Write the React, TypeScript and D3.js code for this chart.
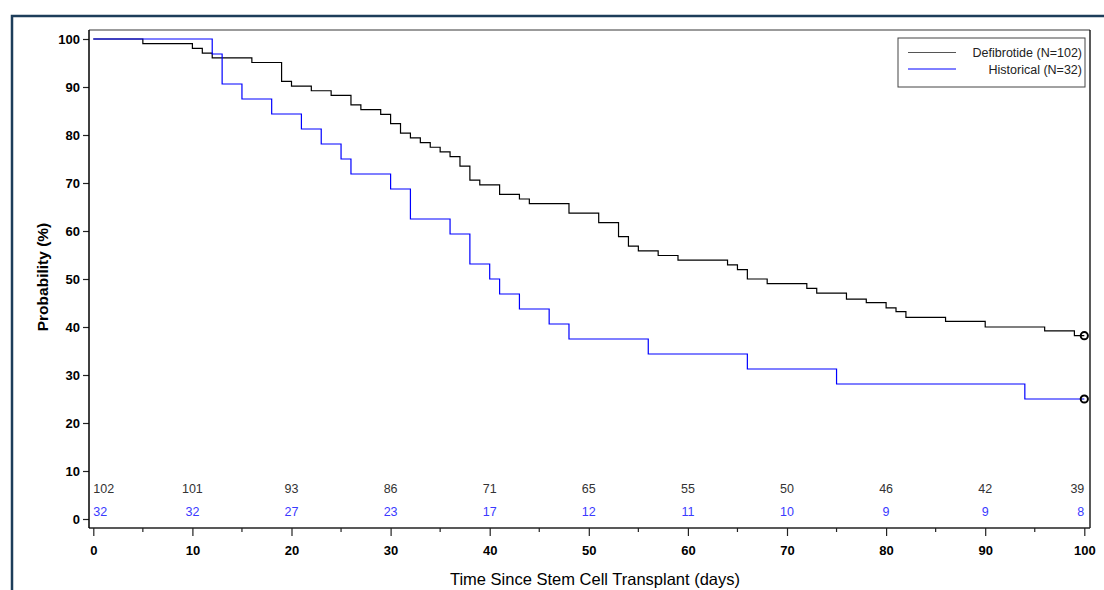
import React, { useEffect, useRef } from "react"
import * as d3 from "d3"

// Kaplan-Meier steps (day, survival %)
const defibTimes = [0, 5, 10, 11, 12, 16, 19, 20, 22, 24, 26, 27, 29, 30, 31, 32, 33, 34, 35, 36, 37, 38, 39, 41, 43, 44, 48, 51, 53, 54, 55, 57, 59, 64, 65, 66, 68, 72, 73, 76, 78, 80, 81, 82, 86, 90, 96, 99, 100]
const defibValues = [100, 99.02, 98.04, 97.06, 96.08, 95.1, 91.18, 90.2, 89.22, 88.24, 86.27, 85.29, 84.31, 82.35, 80.39, 79.41, 78.43, 77.45, 76.47, 75.49, 73.53, 70.59, 69.61, 67.65, 66.67, 65.69, 63.73, 61.76, 58.82, 56.86, 55.88, 54.9, 53.92, 52.94, 51.96, 50.0, 49.02, 48.04, 47.06, 45.8, 45.06, 44.0, 43.2, 42.02, 41.19, 40.0, 39.2, 38.2, 38.2]

const histTimes = [0, 12, 13, 15, 18, 21, 23, 25, 26, 30, 32, 36, 38, 40, 41, 43, 46, 48, 56, 66, 75, 94, 100]
const histValues = [100, 96.88, 90.63, 87.5, 84.38, 81.25, 78.13, 75.0, 71.88, 68.75, 62.5, 59.38, 53.13, 50.0, 46.88, 43.75, 40.63, 37.5, 34.38, 31.25, 28.13, 25.0, 25.0]

const riskDays = [0, 10, 20, 30, 40, 50, 60, 70, 80, 90, 100]
const defibAtRisk = [102, 101, 93, 86, 71, 65, 55, 50, 46, 42, 39]
const histAtRisk = [32, 32, 27, 23, 17, 12, 11, 10, 9, 9, 8]

const xTicks = [0, 10, 20, 30, 40, 50, 60, 70, 80, 90, 100]
const xMinorTicks = [5, 15, 25, 35, 45, 55, 65, 75, 85, 95]
const yTicks = [0, 10, 20, 30, 40, 50, 60, 70, 80, 90, 100]

const legendItems = [
	{ label: "Defibrotide (N=102)", color: "#555" },
	{ label: "Historical (N=32)", color: "#0000ff" },
]

const W = 1104
const H = 590
const FONT = "'Liberation Sans', Arial, sans-serif"

const App = () => {
	const ref = useRef<SVGSVGElement>(null)

	useEffect(() => {
		const svg = d3.select(ref.current)
		svg.selectAll("*").remove()

		const plotLeft = 89
		const plotRight = 1090
		const plotTop = 30
		const plotBottom = 528

		const x = d3.scaleLinear().domain([0, 100]).range([93.3, 1084.3])
		const y = d3.scaleLinear().domain([0, 100]).range([519, 39])

		// outer frame
		svg
			.append("path")
			.attr("d", `M12,${H} V16 H${W}`)
			.attr("fill", "none")
			.attr("stroke", "#1d3d5a")
			.attr("stroke-width", 2.5)

		// plot frame
		svg
			.append("line")
			.attr("x1", plotLeft)
			.attr("x2", plotRight)
			.attr("y1", plotTop)
			.attr("y2", plotTop)
			.attr("stroke", "#7a7a7a")
			.attr("stroke-width", 1.5)
		svg
			.append("line")
			.attr("x1", plotRight)
			.attr("x2", plotRight)
			.attr("y1", plotTop)
			.attr("y2", plotBottom)
			.attr("stroke", "#000")
			.attr("stroke-width", 1.3)

		// x axis
		const xAxis = d3
			.axisBottom(x)
			.tickValues(xTicks)
			.tickSize(8)
			.tickPadding(10)
			.tickSizeOuter(0)
		const gx = svg
			.append("g")
			.attr("transform", `translate(0, ${plotBottom})`)
			.call(xAxis)
		gx.select(".domain").remove()
		gx.selectAll("line").attr("stroke", "#222").attr("stroke-width", 1.2)
		gx.selectAll("text")
			.attr("fill", "#000")
			.style("font-family", FONT)
			.style("font-size", "13px")
			.style("font-weight", "bold")
		svg
			.append("line")
			.attr("x1", plotLeft)
			.attr("x2", plotRight)
			.attr("y1", plotBottom)
			.attr("y2", plotBottom)
			.attr("stroke", "#222")
			.attr("stroke-width", 1.5)
		svg
			.append("g")
			.selectAll("line")
			.data(xMinorTicks)
			.join("line")
			.attr("x1", d => x(d))
			.attr("x2", d => x(d))
			.attr("y1", plotBottom)
			.attr("y2", plotBottom + 4)
			.attr("stroke", "#222")
			.attr("stroke-width", 1.2)

		// y axis
		const yAxis = d3
			.axisLeft(y)
			.tickValues(yTicks)
			.tickSize(6)
			.tickPadding(3)
			.tickSizeOuter(0)
		const gy = svg
			.append("g")
			.attr("transform", `translate(${plotLeft}, 0)`)
			.call(yAxis)
		gy.select(".domain").remove()
		gy.selectAll("line").attr("stroke", "#222").attr("stroke-width", 1.2)
		gy.selectAll("text")
			.attr("fill", "#000")
			.style("font-family", FONT)
			.style("font-size", "13px")
			.style("font-weight", "bold")
		svg
			.append("line")
			.attr("x1", plotLeft)
			.attr("x2", plotLeft)
			.attr("y1", plotTop)
			.attr("y2", plotBottom)
			.attr("stroke", "#000")
			.attr("stroke-width", 1.5)

		// axis titles
		svg
			.append("text")
			.attr("transform", `translate(48, 277) rotate(-90)`)
			.attr("text-anchor", "middle")
			.style("font-family", FONT)
			.style("font-size", "15.5px")
			.style("font-weight", "bold")
			.text("Probability (%)")
		svg
			.append("text")
			.attr("x", 595)
			.attr("y", 585)
			.attr("text-anchor", "middle")
			.style("font-family", FONT)
			.style("font-size", "16.5px")
			.text("Time Since Stem Cell Transplant (days)")

		// survival curves
		const line = d3
			.line<[number, number]>()
			.x(d => x(d[0]))
			.y(d => y(d[1]))
			.curve(d3.curveStepAfter)

		const curves = [
			{ pts: defibTimes.map((t, i) => [t, defibValues[i]] as [number, number]), color: "#000" },
			{ pts: histTimes.map((t, i) => [t, histValues[i]] as [number, number]), color: "#0000ff" },
		]

		curves.forEach(c => {
			svg
				.append("path")
				.attr("d", line(c.pts))
				.attr("fill", "none")
				.attr("stroke", c.color)
				.attr("stroke-width", 1.2)
			const last = c.pts[c.pts.length - 1]
			svg
				.append("circle")
				.attr("cx", x(last[0]))
				.attr("cy", y(last[1]))
				.attr("r", 3.6)
				.attr("fill", "none")
				.attr("stroke", "#000")
				.attr("stroke-width", 2)
		})

		// numbers at risk
		const riskRows = [
			{ vals: defibAtRisk, color: "#333", yPos: 493 },
			{ vals: histAtRisk, color: "#3a3aff", yPos: 516 },
		]
		riskRows.forEach(r => {
			svg
				.append("g")
				.selectAll("text")
				.data(r.vals)
				.join("text")
				.attr("x", (d, i) => x(riskDays[i]))
				.attr("y", r.yPos)
				.attr("text-anchor", (d, i) =>
					i === 0 ? "start" : i === riskDays.length - 1 ? "end" : "middle",
				)
				.attr("fill", r.color)
				.style("font-family", FONT)
				.style("font-size", "12.5px")
				.text(d => d)
		})

		// legend
		const legend = svg.append("g")
		legend
			.append("rect")
			.attr("x", 898)
			.attr("y", 38)
			.attr("width", 187)
			.attr("height", 49)
			.attr("fill", "#fff")
			.attr("stroke", "#444")
			.attr("stroke-width", 1)
		legendItems.forEach((item, i) => {
			const ly = 52.5 + i * 16.5
			legend
				.append("line")
				.attr("x1", 908)
				.attr("x2", 956)
				.attr("y1", ly)
				.attr("y2", ly)
				.attr("stroke", item.color)
				.attr("stroke-width", 1)
			legend
				.append("text")
				.attr("x", 1082)
				.attr("y", ly + 4.5)
				.attr("text-anchor", "end")
				.style("font-family", FONT)
				.style("font-size", "12.5px")
				.attr("fill", "#222")
				.text(item.label)
		})
	}, [])

	return (
		<svg
			ref={ref}
			width={W}
			height={H}
			style={{ position: "absolute", left: 0, top: 0, background: "#fff" }}
		></svg>
	)
}

export default App
